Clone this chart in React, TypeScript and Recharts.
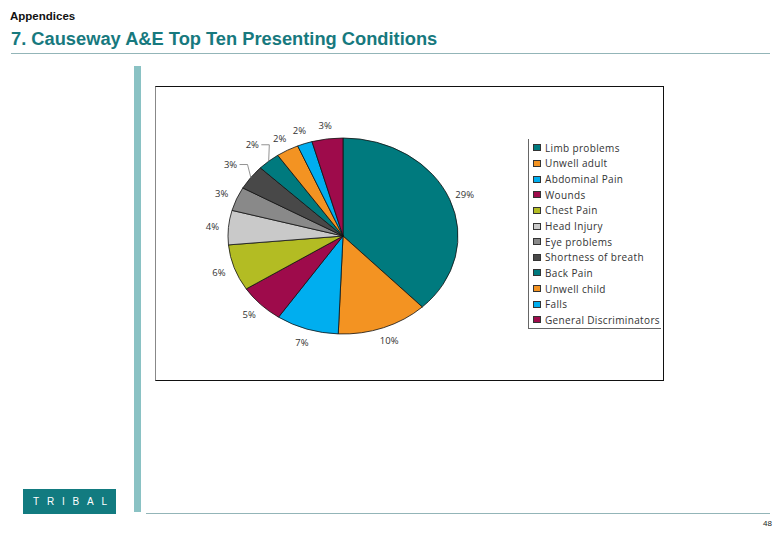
import React from 'react';
import { PieChart, Pie, Cell, Legend } from 'recharts';

const categories = [
  'Limb problems',
  'Unwell adult',
  'Abdominal Pain',
  'Wounds',
  'Chest Pain',
  'Head Injury',
  'Eye problems',
  'Shortness of breath',
  'Back Pain',
  'Unwell child',
  'Falls',
  'General Discriminators',
];
const shares = [28.8, 9.7, 6.7, 4.9, 5.8, 4.3, 3.0, 3.1, 2.4, 2.4, 1.6, 3.3];
const colors = [
  '#007a7e',
  '#f39322',
  '#00aeef',
  '#9e0b4b',
  '#b3bc23',
  '#c9c9c9',
  '#898989',
  '#484848',
  '#007a7e',
  '#f39322',
  '#00aeef',
  '#9e0b4b',
];

const data = categories.map((name, i) => ({ name, value: shares[i] }));

const SX = 115 / 98;
const RAD = Math.PI / 180;
const CX = 187;
const CY = 149;
const R = 98;

function renderLabel(props: any) {
  const { cx, cy, midAngle, outerRadius, value, index } = props;
  const theta = (((90 - midAngle) % 360) + 360) % 360;
  const lead = theta > 300 && theta < 325;
  const k = lead ? 1.22 : 1.14;
  const rx = outerRadius * SX;
  const ry = outerRadius;
  const c = Math.cos(midAngle * RAD);
  const s = Math.sin(midAngle * RAD);
  const x = cx + rx * k * c;
  const y = cy - ry * k * s;
  const ex = cx + rx * c;
  const ey = cy - ry * s;
  return (
    <g key={`lbl-${index}`}>
      {lead && (
        <polyline
          points={`${x + 9},${y} ${x + 17},${y} ${ex},${ey}`}
          stroke="#777"
          strokeWidth={0.8}
          fill="none"
        />
      )}
      <text
        x={x}
        y={y}
        textAnchor="middle"
        dominantBaseline="central"
        fontFamily="'Open Sans', 'DejaVu Sans', sans-serif"
        fontSize={9.5}
        fill="#333"
      >
        {`${Math.round(value)}%`}
      </text>
    </g>
  );
}

function LegendBox(props: any) {
  const items = [...(props.payload || [])].sort(
    (a: any, b: any) => categories.indexOf(a.value) - categories.indexOf(b.value)
  );
  return (
    <div
      style={{
        width: 133,
        boxSizing: 'border-box',
        borderLeft: '1px solid #666',
        borderBottom: '1px solid #666',
        paddingTop: 1,
        paddingBottom: 0,
        fontFamily: "'Open Sans', 'DejaVu Sans', sans-serif",
        fontSize: 10,
        letterSpacing: 0.35,
        color: '#333',
      }}
    >
      {items.map((p: any, i: number) => (
        <div
          key={i}
          style={{ height: 15.65, display: 'flex', alignItems: 'center', whiteSpace: 'nowrap' }}
        >
          <span
            style={{
              display: 'inline-block',
              width: 8,
              height: 7,
              boxSizing: 'border-box',
              background: p.color,
              border: '1px solid #333',
              marginLeft: 4,
              marginRight: 4,
            }}
          />
          <span>{p.value}</span>
        </div>
      ))}
    </div>
  );
}

export default function App() {
  return (
    <div
      style={{
        position: 'absolute',
        left: 0,
        top: 0,
        width: 780,
        height: 540,
        background: '#fff',
        fontFamily: "'Liberation Sans', Arial, sans-serif",
        overflow: 'hidden',
      }}
    >
      <style>{`
        .pie-holder path.recharts-sector {
          transform: scale(${SX}, 1);
          transform-origin: ${CX}px ${CY}px;
          transform-box: view-box;
          vector-effect: non-scaling-stroke;
        }
      `}</style>
      <div
        style={{
          position: 'absolute',
          left: 10,
          top: 11,
          fontSize: 11.5,
          lineHeight: '11.5px',
          fontWeight: 'bold',
          color: '#111',
          whiteSpace: 'nowrap',
        }}
      >
        Appendices
      </div>
      <div
        style={{
          position: 'absolute',
          left: 11,
          top: 30.3,
          fontSize: 18.3,
          lineHeight: '18.3px',
          fontWeight: 'bold',
          color: '#17797e',
          whiteSpace: 'nowrap',
        }}
      >
        7. Causeway A&amp;E Top Ten Presenting Conditions
      </div>
      <div style={{ position: 'absolute', left: 11, top: 53, width: 759, height: 1, background: '#93b5b8' }} />
      <div style={{ position: 'absolute', left: 134, top: 66, width: 7, height: 446, background: '#8ac2c4' }} />
      <div
        style={{
          position: 'absolute',
          left: 155,
          top: 86,
          width: 509,
          height: 295,
          boxSizing: 'border-box',
          borderTop: '1px solid #111',
          borderRight: '1px solid #111',
          borderBottom: '1px solid #111',
          borderLeft: '1px solid #888',
        }}
      />
      <div className="pie-holder" style={{ position: 'absolute', left: 156, top: 87, width: 507, height: 293 }}>
        <PieChart width={507} height={293} margin={{ top: 0, right: 0, bottom: 0, left: 0 }}>
          <Pie
            data={data}
            dataKey="value"
            nameKey="name"
            cx={CX}
            cy={CY}
            outerRadius={R}
            startAngle={90}
            endAngle={-270}
            stroke="#111"
            strokeWidth={0.8}
            label={renderLabel}
            labelLine={false}
            isAnimationActive={false}
          >
            {data.map((d, i) => (
              <Cell key={d.name} fill={colors[i]} />
            ))}
          </Pie>
          <Legend
            layout="vertical"
            align="right"
            verticalAlign="middle"
            itemSorter={null as any}
            content={<LegendBox />}
            wrapperStyle={{ position: 'absolute', left: 372, top: 52, width: 133 }}
          />
        </PieChart>
      </div>
      <div
        style={{
          position: 'absolute',
          left: 22.5,
          top: 488.5,
          width: 93.5,
          height: 25,
          background: '#127b80',
        }}
      />
      <div
        style={{
          position: 'absolute',
          left: 33,
          top: 496.5,
          fontSize: 10,
          lineHeight: '10px',
          letterSpacing: 7.8,
          color: '#fff',
          whiteSpace: 'nowrap',
        }}
      >
        TRIBAL
      </div>
      <div style={{ position: 'absolute', left: 146, top: 512.5, width: 624, height: 1, background: '#93b5b8' }} />
      <div
        style={{
          position: 'absolute',
          left: 752,
          top: 520.2,
          width: 20,
          textAlign: 'right',
          fontSize: 8,
          lineHeight: '8px',
          color: '#222',
        }}
      >
        48
      </div>
    </div>
  );
}
